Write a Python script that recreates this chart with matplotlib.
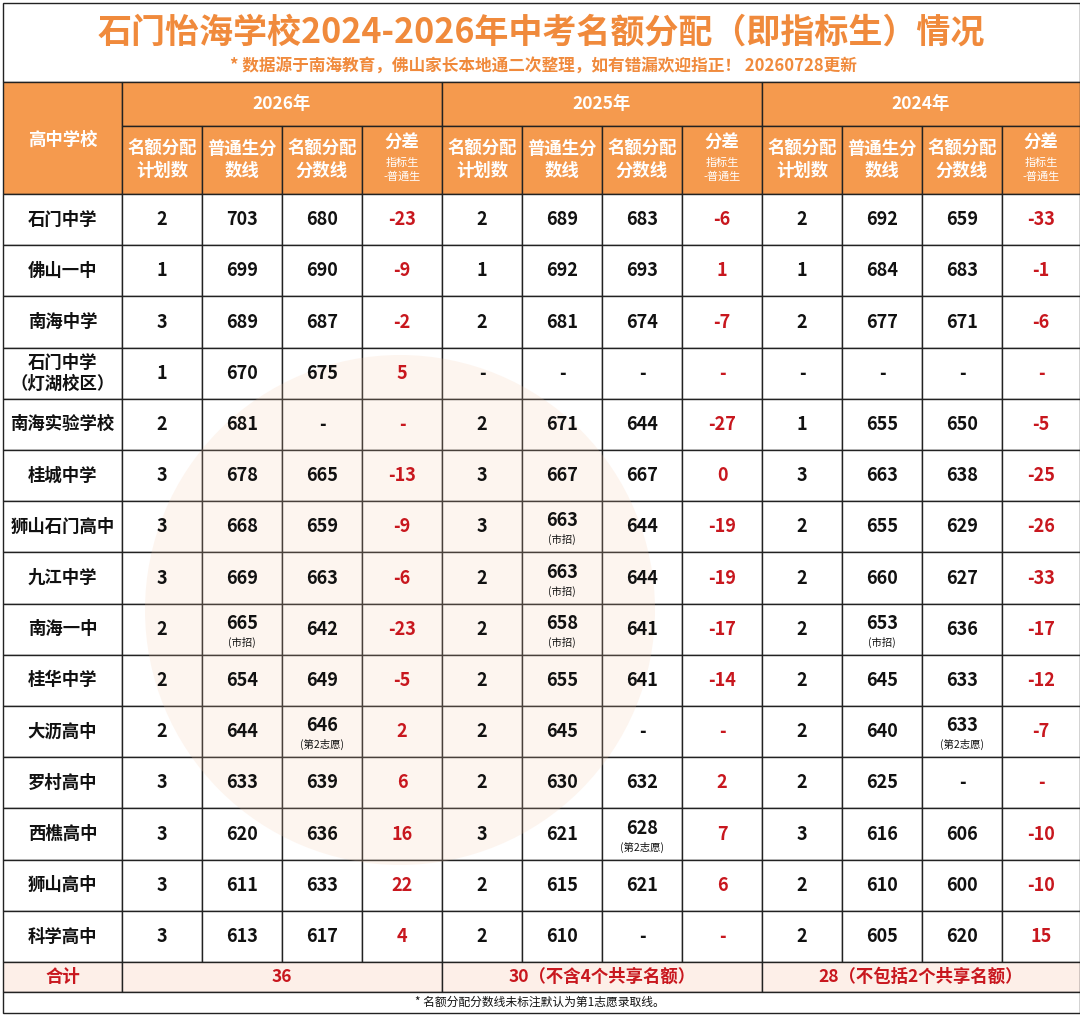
import matplotlib.pyplot as plt
from matplotlib.patches import Rectangle, Circle

plt.rcParams['font.family'] = ['Noto Sans CJK SC', 'DejaVu Sans']

schools = ['石门中学', '佛山一中', '南海中学', '石门中学\n（灯湖校区）', '南海实验学校', '桂城中学',
           '狮山石门高中', '九江中学', '南海一中', '桂华中学', '大沥高中', '罗村高中',
           '西樵高中', '狮山高中', '科学高中']
years = ['2026年', '2025年', '2024年']
sub_headers = ['名额分配\n计划数', '普通生分\n数线', '名额分配\n分数线']

plan_26 = ['2', '1', '3', '1', '2', '3', '3', '3', '2', '2', '2', '3', '3', '3', '3']
norm_26 = ['703', '699', '689', '670', '681', '678', '668', '669', '665', '654', '644', '633', '620', '611', '613']
quota_26 = ['680', '690', '687', '675', '-', '665', '659', '663', '642', '649', '646', '639', '636', '633', '617']
diff_26 = ['-23', '-9', '-2', '5', '-', '-13', '-9', '-6', '-23', '-5', '2', '6', '16', '22', '4']

plan_25 = ['2', '1', '2', '-', '2', '3', '3', '2', '2', '2', '2', '2', '3', '2', '2']
norm_25 = ['689', '692', '681', '-', '671', '667', '663', '663', '658', '655', '645', '630', '621', '615', '610']
quota_25 = ['683', '693', '674', '-', '644', '667', '644', '644', '641', '641', '-', '632', '628', '621', '-']
diff_25 = ['-6', '1', '-7', '-', '-27', '0', '-19', '-19', '-17', '-14', '-', '2', '7', '6', '-']

plan_24 = ['2', '1', '2', '-', '1', '3', '2', '2', '2', '2', '2', '2', '3', '2', '2']
norm_24 = ['692', '684', '677', '-', '655', '663', '655', '660', '653', '645', '640', '625', '616', '610', '605']
quota_24 = ['659', '683', '671', '-', '650', '638', '629', '627', '636', '633', '633', '-', '606', '600', '620']
diff_24 = ['-33', '-1', '-6', '-', '-5', '-25', '-26', '-33', '-17', '-12', '-7', '-', '-10', '-10', '15']

# (row, column index) -> small note under the value
notes = {(8, 1): '(市招)', (10, 2): '(第2志愿)',
         (6, 5): '(市招)', (7, 5): '(市招)', (8, 5): '(市招)', (12, 6): '(第2志愿)',
         (8, 9): '(市招)', (10, 10): '(第2志愿)'}

totals = ['36', '30（不含4个共享名额）', '28（不包括2个共享名额）']

columns = [plan_26, norm_26, quota_26, diff_26, plan_25, norm_25, quota_25, diff_25,
           plan_24, norm_24, quota_24, diff_24]

ORANGE = '#F59A4E'
TITLE = '#F08A3C'
RED = '#C8171E'

fig = plt.figure(figsize=(10.8, 10.29), dpi=100)
ax = fig.add_axes([0, 0, 1, 1])
ax.set_xlim(0, 1080)
ax.set_ylim(1029, 0)
ax.axis('off')

xs = [3, 122, 202, 282, 362, 442, 522, 602, 682, 762, 842, 922, 1002, 1080]
y_title0, y_head0, y_head1, y_data0 = 3, 82, 126, 194
row_h = 51.2
y_total0 = y_data0 + row_h * len(schools)
y_total1 = y_total0 + 30
y_foot1 = y_total1 + 21

def box(x0, y0, x1, y1, fc='white', lw=1.0):
    ax.add_patch(Rectangle((x0, y0), x1 - x0, y1 - y0, facecolor=fc, edgecolor='#222222', lw=lw))

# faint watermark
ax.add_patch(Circle((400, 610), 255, facecolor='#F7C9A8', alpha=0.18, edgecolor='none', zorder=3))

# title
box(xs[0], y_title0, xs[-1], y_head0)
ax.text(541, 32, '石门怡海学校2024-2026年中考名额分配（即指标生）情况', color=TITLE,
        fontsize=24.5, fontweight='bold', ha='center', va='center')
ax.text(543, 67, '* 数据源于南海教育，佛山家长本地通二次整理，如有错漏欢迎指正！ 20260728更新',
        color=TITLE, fontsize=12, fontweight='bold', ha='center', va='center')

# header
box(xs[0], y_head0, xs[1], y_data0, fc=ORANGE)
ax.text((xs[0] + xs[1]) / 2, 140, '高中学校', color='white', fontsize=12.5, fontweight='bold',
        ha='center', va='center')
for k, yr in enumerate(years):
    x0, x1 = xs[1 + 4 * k], xs[5 + 4 * k]
    box(x0, y_head0, x1, y_head1, fc=ORANGE)
    ax.text((x0 + x1) / 2, 104, yr, color='white', fontsize=12.5, fontweight='bold',
            ha='center', va='center')
    for j in range(4):
        c0, c1 = xs[1 + 4 * k + j], xs[2 + 4 * k + j]
        box(c0, y_head1, c1, y_data0, fc=ORANGE)
        cx = (c0 + c1) / 2
        if j < 3:
            ax.text(cx, 160, sub_headers[j], color='white', fontsize=12.5, fontweight='bold',
                    ha='center', va='center', linespacing=1.3)
        else:
            ax.text(cx, 143, '分差', color='white', fontsize=12.5, fontweight='bold',
                    ha='center', va='center')
            ax.text(cx, 170, '指标生\n-普通生', color='white', fontsize=8,
                    ha='center', va='center', linespacing=1.3)

# data rows
for i, school in enumerate(schools):
    y0 = y_data0 + i * row_h
    y1 = y0 + row_h
    cy = (y0 + y1) / 2
    box(xs[0], y0, xs[1], y1)
    ax.text((xs[0] + xs[1]) / 2, cy, school, fontsize=12.5, fontweight='bold', ha='center',
            va='center', color='#111111', zorder=5, linespacing=1.2)
    for c, col in enumerate(columns):
        x0, x1 = xs[1 + c], xs[2 + c]
        box(x0, y0, x1, y1)
        color = RED if c % 4 == 3 else '#111111'
        note = notes.get((i, c))
        ty = cy - 6 if note else cy
        ax.text((x0 + x1) / 2, ty, col[i], fontsize=13, fontweight='bold', ha='center',
                va='center', color=color, zorder=5)
        if note:
            ax.text((x0 + x1) / 2, cy + 13, note, fontsize=7.5, ha='center', va='center',
                    color='#111111', zorder=5)

# total row
box(xs[0], y_total0, xs[1], y_total1, fc='#FDEFE8')
ax.text((xs[0] + xs[1]) / 2, (y_total0 + y_total1) / 2, '合计', color=RED, fontsize=12.5,
        fontweight='bold', ha='center', va='center', zorder=5)
for k, t in enumerate(totals):
    x0, x1 = xs[1 + 4 * k], xs[5 + 4 * k]
    box(x0, y_total0, x1, y_total1, fc='#FDEFE8')
    ax.text((x0 + x1) / 2, (y_total0 + y_total1) / 2, t, color=RED, fontsize=12.5,
            fontweight='bold', ha='center', va='center', zorder=5)

# footer
box(xs[0], y_total1, xs[-1], y_foot1)
ax.text(540, (y_total1 + y_foot1) / 2, '* 名额分配分数线未标注默认为第1志愿录取线。', fontsize=8.5,
        ha='center', va='center', color='#111111')

fig.savefig('out.png', dpi=100)
